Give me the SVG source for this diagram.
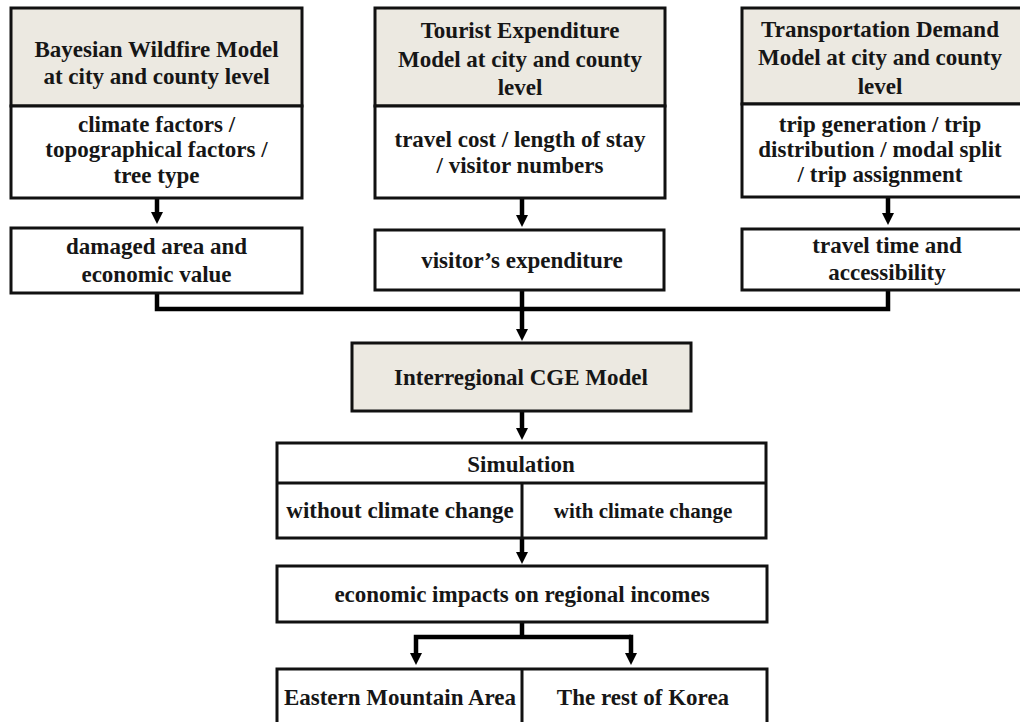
<svg xmlns="http://www.w3.org/2000/svg" width="1020" height="722" viewBox="0 0 1020 722">
<style>
.box{fill:#ffffff;stroke:#111;stroke-width:3}
.hd{fill:#ece9e1;stroke:#111;stroke-width:3}
.div{stroke:#111;stroke-width:3;fill:none}
.t{font-family:"Liberation Serif","Times New Roman",serif;font-weight:bold;font-size:23px;text-anchor:middle;fill:#161616}
.s{font-size:21px}
.c{fill:none;stroke:#000;stroke-width:4.5}
</style>
<defs>
<marker id="ah" viewBox="0 0 12 12" refX="0" refY="6" markerWidth="12" markerHeight="12" markerUnits="userSpaceOnUse" orient="auto">
<path d="M0,0 L12,6 L0,12 z" fill="#000"/>
</marker>
</defs>
<rect width="1020" height="722" fill="#fff"/>

<g id="connectors">
<path class="c" d="M157,198 V212" marker-end="url(#ah)"/>
<path class="c" d="M522,198 V215" marker-end="url(#ah)"/>
<path class="c" d="M888,197 V213" marker-end="url(#ah)"/>
<path class="c" d="M157,293 V309 H888 V290"/>
<path class="c" d="M522,290 V329" marker-end="url(#ah)"/>
<path class="c" d="M522,411 V428" marker-end="url(#ah)"/>
<path class="c" d="M522,538 V552" marker-end="url(#ah)"/>
<path class="c" d="M522,622 V637"/>
<path class="c" d="M631,637 H416 V653" marker-end="url(#ah)"/>
<path class="c" d="M629,637 H631 V653" marker-end="url(#ah)"/>
</g>

<g id="wildfire-model">
<rect class="hd" x="11" y="8" width="291" height="98"/>
<rect class="box" x="11" y="106" width="291" height="92"/>
<text class="t" x="156.5" y="57">Bayesian Wildfire Model</text>
<text class="t" x="156.5" y="84">at city and county level</text>
<text class="t" x="156.5" y="132">climate factors /</text>
<text class="t" x="156.5" y="157">topographical factors /</text>
<text class="t" x="156.5" y="183">tree type</text>
</g>
<g id="damaged-area">
<rect class="box" x="11" y="228" width="291" height="65"/>
<text class="t" x="156.5" y="254">damaged area and</text>
<text class="t" x="156.5" y="282">economic value</text>
</g>

<g id="tourist-model">
<rect class="hd" x="375" y="8" width="290" height="98"/>
<rect class="box" x="375" y="106" width="290" height="92"/>
<text class="t" x="520" y="38">Tourist Expenditure</text>
<text class="t" x="520" y="67">Model at city and county</text>
<text class="t" x="520" y="95">level</text>
<text class="t" x="520" y="147">travel cost / length of stay</text>
<text class="t" x="520" y="173">/ visitor numbers</text>
</g>
<g id="visitor-expenditure">
<rect class="box" x="375" y="230" width="289" height="60"/>
<text class="t" x="522" y="268">visitor’s expenditure</text>
</g>

<g id="transport-model">
<rect class="hd" x="742" y="8" width="280" height="96"/>
<rect class="box" x="742" y="104" width="280" height="93"/>
<text class="t" x="880" y="37">Transportation Demand</text>
<text class="t" x="880" y="65">Model at city and county</text>
<text class="t" x="880" y="94">level</text>
<text class="t" x="880" y="132">trip generation / trip</text>
<text class="t" x="880" y="157">distribution / modal split</text>
<text class="t" x="880" y="182">/ trip assignment</text>
</g>
<g id="travel-time">
<rect class="box" x="742" y="229" width="290" height="61"/>
<text class="t" x="887" y="253">travel time and</text>
<text class="t" x="887" y="280">accessibility</text>
</g>

<g id="cge-model">
<rect class="hd" x="352" y="343" width="339" height="68"/>
<text class="t" x="521" y="385">Interregional CGE Model</text>
</g>

<g id="simulation">
<rect class="box" x="277" y="443" width="489" height="95"/>
<path class="div" d="M277,483 H766 M522,483 V538"/>
<text class="t" x="521" y="472">Simulation</text>
<text class="t" x="400" y="518">without climate change</text>
<text class="t s" x="643" y="518">with climate change</text>
</g>

<g id="economic-impacts">
<rect class="box" x="277" y="566" width="490" height="56"/>
<text class="t" x="522" y="602">economic impacts on regional incomes</text>
</g>

<g id="regions">
<rect class="box" x="277" y="669" width="490" height="70"/>
<path class="div" d="M522,669 V722"/>
<text class="t" x="400" y="705">Eastern Mountain Area</text>
<text class="t" x="643" y="705">The rest of Korea</text>
</g>
</svg>
